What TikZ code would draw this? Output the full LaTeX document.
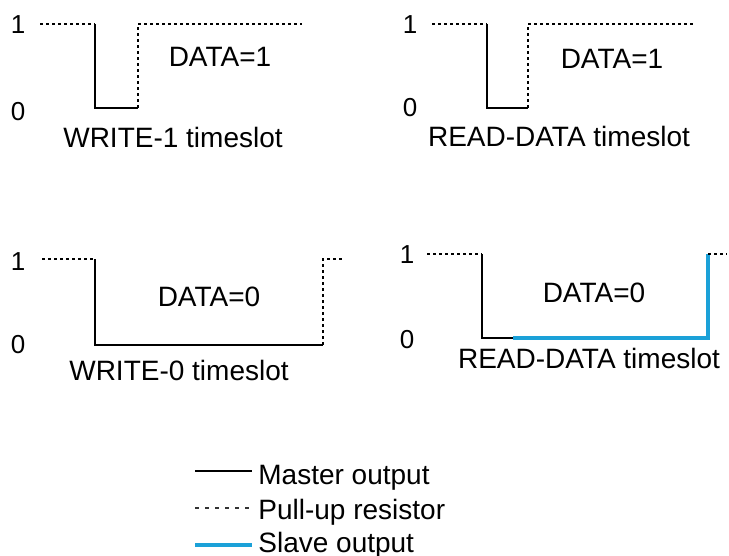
\documentclass[tikz,border=0pt]{standalone}
\usepackage{fontspec}
\setmainfont{Liberation Sans}
\usepackage{tikz}
\usetikzlibrary{positioning}
\usepackage{xcolor}
\definecolor{slavecol}{HTML}{1BA1D8}

\begin{document}
\begin{tikzpicture}[x=0.5pt, y=-0.5pt,
    master/.style={black, line width=1.4pt},
    pullup/.style={black, line width=1.3pt, dash pattern=on 1.5pt off 1.5pt},
    pullupkey/.style={black!80, line width=1.3pt, dash pattern=on 2pt off 3pt},
    slave/.style={slavecol, line width=1.8pt},
    lbl/.style={inner sep=0pt, font=\fontsize{14pt}{16pt}\selectfont},
    lvl/.style={inner sep=0pt, font=\fontsize{13pt}{15pt}\selectfont}]
  \useasboundingbox (0,0) rectangle (729,556);

  % WRITE-1
  \node[lvl] (w1hi) at (18,25) {1};
  \node[lvl] (w1lo) at (18,112) {0};
  \draw[pullup] (40,24) -- (95,24);
  \draw[master] (95,24) -- (95,108) -- (138,108);
  \draw[pullup] (138,108) -- (138,24) -- (302,24);
  \node[lbl] (w1data) at (220,57) {DATA=1};
  \node[lbl] (w1name) at (173,137) {WRITE-1 timeslot};

  % READ-DATA, 1
  \node[lvl] (r1hi) at (410,25) {1};
  \node[lvl] (r1lo) at (410,108) {0};
  \draw[pullup] (432,24) -- (487,24);
  \draw[master] (487,24) -- (487,108) -- (528,108);
  \draw[pullup] (528,108) -- (528,24) -- (693,24);
  \node[lbl] (r1data) at (612,59) {DATA=1};
  \node[lbl] (r1name) at (559,136) {READ-DATA timeslot};

  % WRITE-0
  \node[lvl] (w0hi) at (18,262) {1};
  \node[lvl] (w0lo) at (18,345) {0};
  \draw[pullup] (42,259) -- (95,259);
  \draw[master] (95,259) -- (95,345) -- (323,345);
  \draw[pullup] (323,345) -- (323,259) -- (342,259);
  \node[lbl] (w0data) at (209,297) {DATA=0};
  \node[lbl] (w0name) at (179,370) {WRITE-0 timeslot};

  % READ-DATA, 0
  \node[lvl] (r0hi) at (407,255) {1};
  \node[lvl] (r0lo) at (407,340) {0};
  \draw[pullup] (427,254) -- (482,254);
  \draw[master] (482,254) -- (482,338) -- (513,338);
  \draw[slave] (513,338) -- (708,338) -- (708,254);
  \draw[pullup] (708,254) -- (727,254);
  \node[lbl] (r0data) at (594,293) {DATA=0};
  \node[lbl] (r0name) at (589,358) {READ-DATA timeslot};

  % key
  \coordinate (kmaster) at (195,471);
  \coordinate (kpullup) at (195,508);
  \coordinate (kslave) at (195,545);
  \draw[master] (kmaster) -- ++(57,0);
  \draw[pullupkey] (kpullup) -- ++(57,0);
  \draw[slave] (kslave) -- ++(57,0);
  \node[lbl, anchor=base west] (kmtext) at (258,484) {Master output};
  \node[lbl, anchor=base west] (kptext) at (258,519) {Pull-up resistor};
  \node[lbl, anchor=base west] (kstext) at (258,552) {Slave output};
\end{tikzpicture}
\end{document}
